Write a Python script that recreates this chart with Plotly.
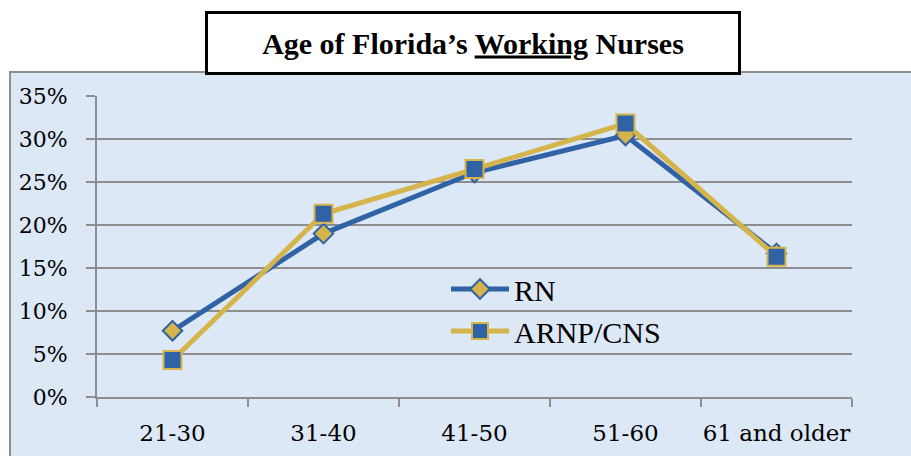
import plotly.graph_objects as go

categories = ["21-30", "31-40", "41-50", "51-60", "61 and older"]
rn_values = [7.7, 19.0, 26.1, 30.4, 16.7]
arnp_values = [4.3, 21.3, 26.5, 31.8, 16.3]
y_ticks = [0, 5, 10, 15, 20, 25, 30, 35]
y_tick_labels = [f"{v}%" for v in y_ticks]

BLUE = "#3063a5"
GOLD = "#d4b44b"
BG = "#dde8f6"
GRID = "#8e8e8e"

W, H = 911, 456
L, R, T, B = 97, 59, 96, 59
pw, ph = W - L - R, H - T - B


def px(x):
    return (x - L) / pw


def py(y):
    return (H - B - y) / ph


fig = go.Figure()
fig.add_trace(go.Scatter(
    x=categories, y=rn_values, name="RN", mode="lines+markers",
    line=dict(color=BLUE, width=5),
    marker=dict(symbol="diamond", size=15, color=GOLD, line=dict(color=BLUE, width=2)),
))
fig.add_trace(go.Scatter(
    x=categories, y=arnp_values, name="ARNP/CNS", mode="lines+markers",
    line=dict(color=GOLD, width=5),
    marker=dict(symbol="square", size=18, color=BLUE, line=dict(color=GOLD, width=2)),
))

fig.update_layout(
    width=W, height=H,
    margin=dict(l=L, r=R, t=T, b=B, autoexpand=False),
    paper_bgcolor="white",
    plot_bgcolor="rgba(0,0,0,0)",
    showlegend=True,
    legend=dict(
        x=px(446), y=py(263), xanchor="left", yanchor="top",
        bgcolor="rgba(0,0,0,0)", itemwidth=58,
        font=dict(family="Liberation Serif", size=30, color="black"),
        tracegroupgap=0,
    ),
    xaxis=dict(
        type="category", range=[-0.5, 4.5], automargin=False, tickangle=0,
        showgrid=False, showline=True, linecolor=GRID, linewidth=2,
        ticks="outside", tickson="boundaries", ticklen=8, tickcolor=GRID, tickwidth=2,
        tickfont=dict(family="DejaVu Serif", size=23, color="black"),
        ticklabelstandoff=14,
    ),
    yaxis=dict(
        range=[0, 35], tickvals=y_ticks, ticktext=y_tick_labels, automargin=False,
        showgrid=True, gridcolor=GRID, gridwidth=2,
        showline=True, linecolor=GRID, linewidth=2,
        ticks="outside", ticklen=9, tickcolor=GRID, tickwidth=2,
        tickfont=dict(family="DejaVu Serif", size=22, color="black"),
        ticklabelstandoff=14, zeroline=False,
    ),
    shapes=[
        dict(type="rect", xref="paper", yref="paper",
             x0=px(10), x1=px(915), y0=py(72), y1=py(462),
             fillcolor=BG, line=dict(color=GRID, width=2), layer="below"),
    ],
    annotations=[
        dict(text="<b>Age of Florida’s <u>Working</u> Nurses</b>",
             xref="paper", yref="paper", x=px(473), y=py(43),
             xanchor="center", yanchor="middle", showarrow=False,
             width=530, height=58,
             bgcolor="white", bordercolor="black", borderwidth=3, borderpad=0,
             font=dict(family="Liberation Serif", size=30, color="black")),
    ],
)

fig.write_html("out.html", config={"displayModeBar": False},
               post_script="document.body.style.margin='0';")
